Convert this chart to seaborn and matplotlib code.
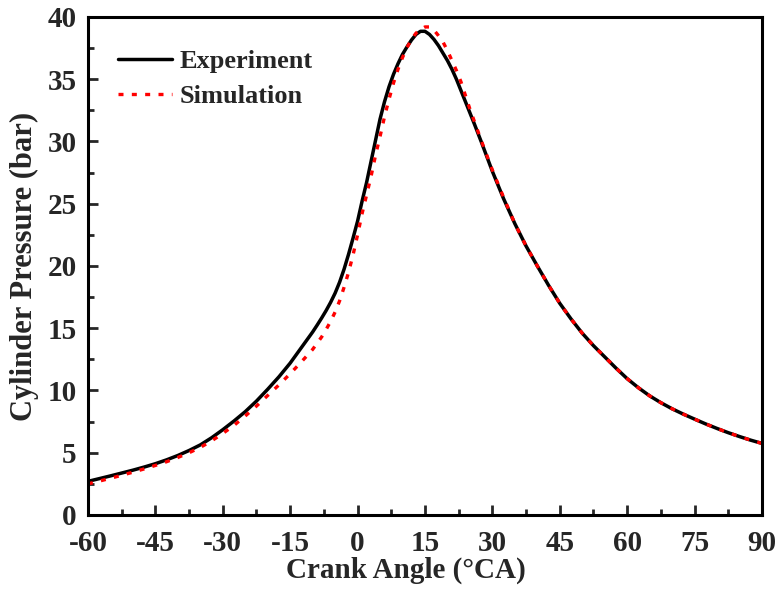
import matplotlib
matplotlib.use("Agg")
import matplotlib.pyplot as plt
from matplotlib.ticker import MultipleLocator
import seaborn as sns
import pandas as pd

# Experiment (crank angle in deg CA, cylinder pressure in bar)
exp_angle = [-60, -57.5, -55, -52.5, -50, -47.5, -45, -42.5, -40, -37.5, -35, -32.5, -30,
             -27.5, -25, -22.5, -20, -17.5, -15, -12.5, -10, -9, -8, -7, -6, -5, -4, -3, -2, -1,
             0, 1, 2, 3, 4, 5, 6, 7, 8, 9, 10, 11, 12, 13, 14, 15, 16, 17, 18, 19, 20,
             21, 22, 23, 24, 25, 26, 27.5, 30, 32.5, 35, 37.5, 40, 42.5, 45, 47.5, 50,
             52.5, 55, 57.5, 60, 62.5, 65, 67.5, 70, 72.5, 75, 77.5, 80, 82.5, 85, 87.5, 90]
exp_pressure = [2.70, 2.92, 3.14, 3.37, 3.60, 3.85, 4.12, 4.43, 4.78, 5.18, 5.63, 6.20, 6.85,
                7.55, 8.30, 9.15, 10.1, 11.1, 12.2, 13.45, 14.7, 15.25, 15.82, 16.42, 17.08, 17.82,
                18.7, 19.75, 20.95, 22.25,
                23.6, 25.2, 26.7, 28.4, 30.1, 31.8, 33.2, 34.4, 35.4, 36.25, 37.0, 37.6, 38.15, 38.6, 38.85,
                38.85, 38.6, 38.2, 37.7, 37.1, 36.5,
                35.8, 35.0, 34.1, 33.2, 32.3, 31.4, 30.0, 27.6, 25.4, 23.4, 21.6, 20.0, 18.45, 17.0, 15.75, 14.6,
                13.6, 12.7, 11.8, 10.95, 10.22, 9.57, 9.02, 8.53, 8.1, 7.7, 7.31, 6.95, 6.61, 6.3, 6.01, 5.75]

# Simulation (crank angle in deg CA, cylinder pressure in bar)
sim_angle = [-60, -57.5, -55, -52.5, -50, -47.5, -45, -42.5, -40, -37.5, -35, -32.5, -30,
             -27.5, -25, -22.5, -20, -17.5, -15, -12.5, -10, -9, -8, -7, -6, -5, -4, -3, -2, -1,
             0, 1, 2, 3, 4, 5, 6, 7, 8, 9, 10, 11, 12, 13, 14, 15, 16, 17, 18, 19, 20,
             21, 22, 23, 24, 25, 26, 27.5, 30, 32.5, 35, 37.5, 40, 42.5, 45, 47.5, 50,
             52.5, 55, 57.5, 60, 62.5, 65, 67.5, 70, 72.5, 75, 77.5, 80, 82.5, 85, 87.5, 90]
sim_pressure = [2.50, 2.72, 2.95, 3.19, 3.44, 3.70, 3.98, 4.28, 4.62, 5.00, 5.43, 5.95, 6.55,
                7.20, 7.95, 8.75, 9.60, 10.45, 11.35, 12.3, 13.3, 13.8, 14.3, 14.9, 15.55, 16.3,
                17.2, 18.3, 19.5, 20.9,
                22.5, 24.2, 25.7, 27.2, 28.9, 30.4, 32.0, 33.4, 34.7, 35.8, 36.75, 37.55, 38.2, 38.7, 39.0, 39.2,
                39.2, 38.95, 38.5, 38.0, 37.3,
                36.5, 35.7, 34.8, 33.7, 32.6, 31.6, 30.1, 27.7, 25.5, 23.4, 21.6, 20.0, 18.45, 17.0, 15.75, 14.6,
                13.6, 12.7, 11.8, 10.95, 10.22, 9.57, 9.02, 8.53, 8.1, 7.7, 7.31, 6.95, 6.61, 6.3, 6.01, 5.75]

x_ticks = [-60, -45, -30, -15, 0, 15, 30, 45, 60, 75, 90]
y_ticks = [0, 5, 10, 15, 20, 25, 30, 35, 40]

sns.set_theme(style="white")
plt.rcParams['font.family'] = ['Liberation Serif', 'DejaVu Serif']
plt.rcParams['font.weight'] = 'bold'

df_exp = pd.DataFrame({"angle": exp_angle, "pressure": exp_pressure})
df_sim = pd.DataFrame({"angle": sim_angle, "pressure": sim_pressure})

fig = plt.figure(figsize=(7.82, 5.94), dpi=100)
ax = fig.add_axes([0.1125, 0.133, 0.8619, 0.8384])

sns.lineplot(data=df_exp, x="angle", y="pressure", ax=ax, color="black", linewidth=2.5,
             label="Experiment", sort=False)
sns.lineplot(data=df_sim, x="angle", y="pressure", ax=ax, color="#ff0000", linewidth=2.4,
             label="Simulation", sort=False)
ax.lines[1].set_linestyle((0, (1.5, 2.5)))

ax.set_xlim(-60, 90)
ax.set_ylim(0, 40)
ax.set_xticks(x_ticks)
ax.set_yticks(y_ticks)
ax.set_xticklabels([str(t) for t in x_ticks])
ax.set_yticklabels([str(t) for t in y_ticks])
ax.xaxis.set_minor_locator(MultipleLocator(7.5))
ax.yaxis.set_minor_locator(MultipleLocator(2.5))
ax.tick_params(axis='both', which='major', direction='in', length=7, width=2,
               labelsize=21, top=False, right=False, bottom=True, left=True)
ax.tick_params(axis='x', which='major', pad=11)
ax.tick_params(axis='y', which='major', pad=8)
ax.tick_params(axis='both', which='minor', direction='in', length=4, width=2,
               top=False, right=False, bottom=True, left=True)
for lab in ax.get_xticklabels() + ax.get_yticklabels():
    lab.set_fontweight('bold')

for s in ax.spines.values():
    s.set_linewidth(2.2)
    s.set_color('black')

ax.set_xlabel("Crank Angle (\u00b0CA)", fontsize=21, fontweight='bold')
ax.xaxis.set_label_coords(0.472, -0.084)
ax.set_ylabel("Cylinder Pressure (bar)", fontsize=22, fontweight='bold', labelpad=6)

leg = ax.legend(loc='upper left', frameon=False, fontsize=19, handlelength=2.05,
                handletextpad=0.3, borderpad=0, borderaxespad=0, labelspacing=0.43,
                bbox_to_anchor=(0.0445, 0.934))
for t in leg.get_texts():
    t.set_fontweight('bold')

fig.savefig("out.png", dpi=100)
